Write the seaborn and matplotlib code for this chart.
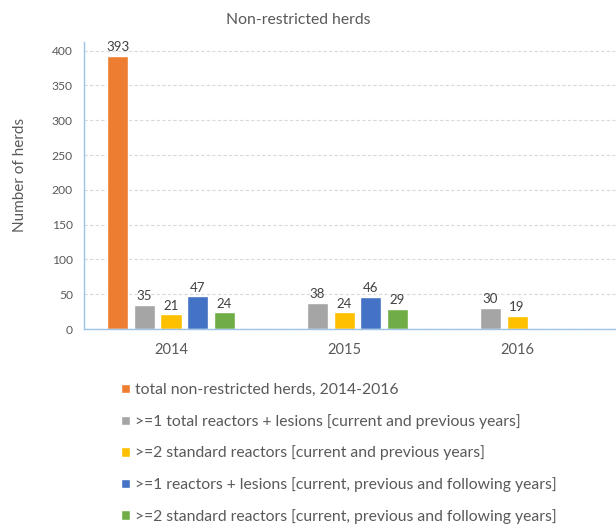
import numpy as np
import pandas as pd
import matplotlib
matplotlib.use("Agg")
import matplotlib.pyplot as plt
import seaborn as sns

years = ["2014", "2015", "2016"]
series = [
    "total non-restricted herds, 2014-2016",
    ">=1 total reactors + lesions [current and previous years]",
    ">=2 standard reactors [current and previous years]",
    ">=1 reactors + lesions [current, previous and following years]",
    ">=2 standard reactors [current, previous and following years]",
]
total_herds = [393, np.nan, np.nan]
total_reactors_lesions = [35, 38, 30]
std_reactors_prev = [21, 24, 19]
reactors_lesions_follow = [47, 46, np.nan]
std_reactors_follow = [24, 29, np.nan]
colors = ["#ED7D31", "#A5A5A5", "#FFC000", "#4472C4", "#70AD47"]

values = [total_herds, total_reactors_lesions, std_reactors_prev,
          reactors_lesions_follow, std_reactors_follow]
rows = []
for s, vals in zip(series, values):
    for y, v in zip(years, vals):
        rows.append({"year": y, "series": s, "value": v})
df = pd.DataFrame(rows)

sns.set_style("white")
plt.rcParams["font.family"] = ["Lato", "DejaVu Sans"]
txt = "#595959"

fig = plt.figure(figsize=(6.16, 5.30), dpi=100)
ax = fig.add_axes([84/616, 1-329/530, 1-84/616, (329-42)/530])

sns.barplot(data=df, x="year", y="value", hue="series", hue_order=series,
            order=years, palette=colors, width=0.77, gap=0.21, ax=ax,
            legend=True, saturation=1, errorbar=None)

for c in ax.containers:
    labels = ["" if np.isnan(b.get_height()) else f"{int(round(b.get_height()))}" for b in c]
    ax.bar_label(c, labels=labels, padding=2, fontsize=9.5, color="#404040")

ax.set_xlim(-0.503, 2.572)
ax.set_ylim(0, 412.5)
ax.set_yticks(range(0, 401, 50))
ax.yaxis.grid(True, linestyle=(0, (3, 2)), color="#D9D9D9", linewidth=0.8)
ax.set_axisbelow(True)
for side in ["top", "right"]:
    ax.spines[side].set_visible(False)
for side in ["left", "bottom"]:
    ax.spines[side].set_color("#9DC3E6")
    ax.spines[side].set_linewidth(1)
ax.tick_params(axis="y", length=0, pad=8, labelsize=8.7, labelcolor=txt)
ax.tick_params(axis="x", length=0, pad=10, labelsize=10.5, labelcolor=txt)
ax.set_xlabel("")
ax.set_ylabel("Number of herds", fontsize=11, color=txt)
ax.yaxis.set_label_coords(-57/532, (329-175)/287)

handles, labels = ax.get_legend_handles_labels()
ax.get_legend().remove()
fig.legend(handles, labels, loc="upper left", bbox_to_anchor=(115/616, 1-377/530),
           frameon=False, fontsize=11.3, labelcolor=txt, handlelength=0.55,
           handleheight=0.55, handletextpad=0.35, labelspacing=1.06, borderaxespad=0)

fig.text(298/616, 1-19.5/530, "Non-restricted herds", ha="center", va="center",
         fontsize=11.3, color=txt)

fig.savefig("out.png", dpi=100)
